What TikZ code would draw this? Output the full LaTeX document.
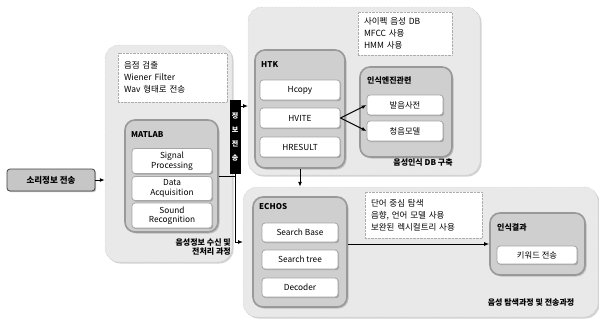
\documentclass[tikz,border=0pt]{standalone}
\usepackage{fontspec}
\setmainfont{Noto Sans CJK KR}
\usetikzlibrary{positioning,arrows.meta,shadows}

\tikzset{
  grp/.style={draw=gray!60, densely dotted, fill=gray!17, rounded corners=14pt, inner sep=0pt,
    drop shadow={opacity=0.35, shadow xshift=1.5pt, shadow yshift=-1.5pt}},
  modbox/.style={draw=gray!80, line width=1.6pt, fill=gray!38, rounded corners=10pt, inner sep=0pt,
    drop shadow={opacity=0.4, shadow xshift=1.5pt, shadow yshift=-1.5pt}},
  itembox/.style={draw=gray!70, thick, fill=white, rounded corners=3pt, inner sep=0pt,
    drop shadow={opacity=0.5, shadow xshift=1.2pt, shadow yshift=-1.2pt},
    font=\fontsize{8.3}{9.5}\selectfont, align=center},
  notebox/.style={draw=gray!65, densely dotted, fill=white, align=left, inner xsep=6pt, inner ysep=0pt,
    font=\fontsize{8.5}{12}\selectfont},
  ttl/.style={font=\bfseries\fontsize{8}{9}\selectfont, inner sep=0pt},
  arr/.style={-{Latex[length=5pt,width=4pt]}, line width=1pt},
}

\begin{document}
\begin{tikzpicture}[x=1pt, y=-1pt]
				\useasboundingbox (0,0) rectangle (599,322);
				% left part
				\node[grp, minimum width=127pt, minimum height=217pt] (leftgrp) at (168.5,153.5) {};
				\node[notebox, text width=97pt, minimum height=49pt] (noteA) at (172.5,77.5) {음점 검출\\Wiener Filter\\Wav 형태로 전송};
				\node[modbox, minimum width=93pt, minimum height=112pt] (matlab) at (171.5,176) {};
				\node[ttl, anchor=west] (matlabT) at (131,135) {MATLAB};
				\node[itembox, minimum width=80pt, minimum height=25pt] (sigp) at (172,161) {Signal\\Processing};
				\node[itembox, minimum width=80pt, minimum height=24pt] (daq) at (172,188.5) {Data\\Acquisition};
				\node[itembox, minimum width=80pt, minimum height=25pt] (sndr) at (172,215.5) {Sound\\Recognition};
				\node[ttl, align=right, anchor=east] (leftT) at (231,247) {음성정보 수신 및\\전처리 과정};
				\node[itembox, fill=gray!45, draw=black!75, minimum width=88pt, minimum height=22pt, font=\bfseries\fontsize{8.5}{10}\selectfont] (src) at (51,180) {소리정보 전송};
				\node[fill=black, text=white, minimum width=11pt, minimum height=74pt, inner sep=0pt, align=center,
					font=\bfseries\fontsize{7}{14}\selectfont] (bar) at (235,137) {정\\보\\전\\송};
				% upper right part
				\node[grp, minimum width=232pt, minimum height=168pt] (topgrp) at (364,91) {};
				\node[notebox, text width=82pt, minimum height=43pt] (noteB) at (405,33.5) {사이펙 음성 DB\\MFCC 사용\\HMM 사용};
				\node[modbox, minimum width=90pt, minimum height=118pt] (htk) at (300,109) {};
				\node[ttl, anchor=west] (htkT) at (261,65) {HTK};
				\node[itembox, minimum width=80pt, minimum height=20pt] (hcopy) at (300,90) {Hcopy};
				\node[itembox, minimum width=80pt, minimum height=20pt] (hvite) at (300,118) {HVITE};
				\node[itembox, minimum width=80pt, minimum height=20pt] (hresult) at (300,147) {HRESULT};
				\node[modbox, minimum width=92pt, minimum height=90pt] (engine) at (406,112) {};
				\node[ttl, anchor=west] (engineT) at (367,80) {인식엔진관련};
				\node[itembox, minimum width=76pt, minimum height=20pt] (pron) at (405,105) {발음사전};
				\node[itembox, minimum width=76pt, minimum height=20pt] (acou) at (405,131) {청음모델};
				\node[ttl] (topT) at (423,163) {음성인식 DB 구축};
				% lower right part
				\node[grp, minimum width=355pt, minimum height=130pt] (botgrp) at (420.5,252) {};
				\node[modbox, minimum width=94pt, minimum height=110pt] (echos) at (300,252) {};
				\node[ttl, anchor=west] (echosT) at (259,207) {ECHOS};
				\node[itembox, minimum width=76pt, minimum height=19pt] (sbase) at (300,232.5) {Search Base};
				\node[itembox, minimum width=76pt, minimum height=19pt] (stree) at (300,259.5) {Search tree};
				\node[itembox, minimum width=76pt, minimum height=19pt] (decoder) at (300,287.5) {Decoder};
				\node[notebox, text width=105pt, minimum height=46pt] (noteC) at (423.5,215) {단어 중심 탐색\\음향, 언어 모델 사용\\보완된 렉시컬트리 사용};
				\node[modbox, minimum width=95pt, minimum height=62pt] (result) at (537.5,244) {};
				\node[ttl, anchor=west] (resultT) at (497,227) {인식결과};
				\node[itembox, minimum width=80pt, minimum height=18pt] (kw) at (537,255) {키워드 전송};
				\node[ttl] (botT) at (531,303) {음성 탐색과정 및 전송과정};
				% connectors
				\coordinate (topin) at (248,106);
				\coordinate (botin) at (243,242);
				\draw[arr] (src.east) -- (src.east -| leftgrp.west);
				\draw[line width=1pt] (matlab.east) -- (matlab.east -| bar.south);
				\draw[arr] (bar.north) |- (topin);
				\draw[arr] (bar.south) |- (botin);
				\draw[arr] (hvite.east) -- (pron.west);
				\draw[arr] (hvite.east) -- (acou.west);
				\draw[arr] (htk.south) -- (htk.south |- botgrp.north);
				\draw[arr] (result.west -| echos.east) -- (result.west);
			\end{tikzpicture}
\end{document}
